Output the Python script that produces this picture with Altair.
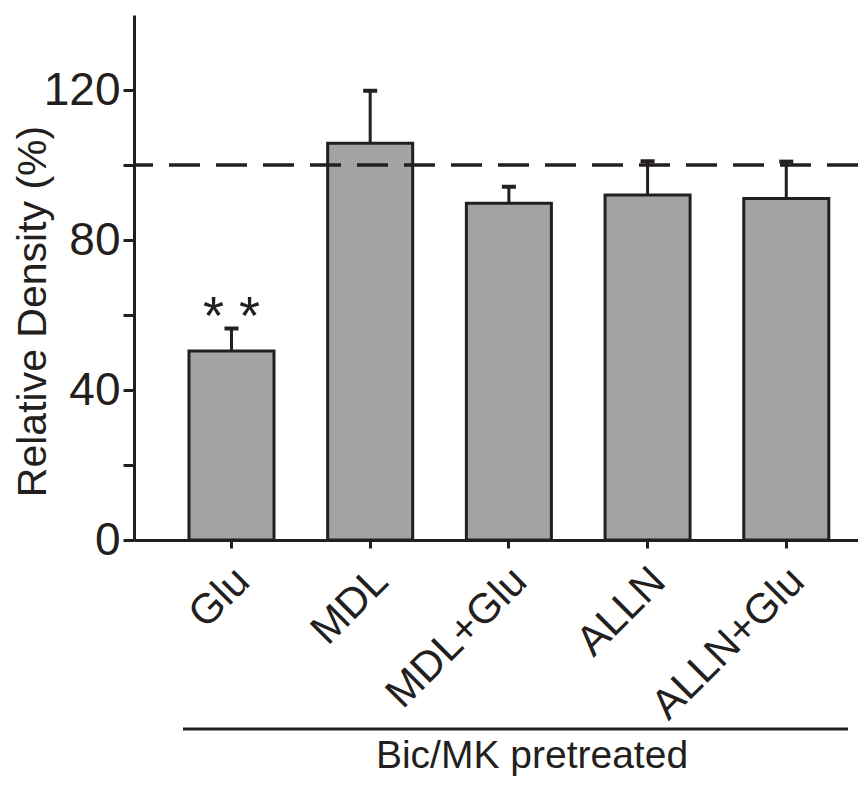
import altair as alt
import pandas as pd

# ---- data ----
categories = ["Glu", "MDL", "MDL+Glu", "ALLN", "ALLN+Glu"]
means = [50.4, 105.8, 89.8, 92.0, 91.1]
errors = [6.0, 14.0, 4.4, 9.0, 9.8]
significance = ["* *", "", "", "", ""]
reference_level = [100]
y_tick_values = [0, 20, 40, 60, 80, 100, 120]
group_label = ["Bic/MK pretreated"]

INK = "#231f20"
FONT = "Liberation Sans"

df = pd.DataFrame({
    "cat": categories,
    "mean": means,
    "upper": [m + e for m, e in zip(means, errors)],
    "sig": significance,
})
ref_df = pd.DataFrame({"ref": reference_level})
grp_df = pd.DataFrame({"label": group_label})

x_enc = alt.X(
    "cat:N",
    sort=categories,
    scale=alt.Scale(paddingInner=0.387, paddingOuter=0.3035, align=0.653, round=False),
    axis=alt.Axis(
        title=None,
        labelAngle=-45,
        labelAlign="right",
        labelBaseline="middle",
        labelFontSize=42,
        labelFont=FONT,
        labelColor=INK,
        labelOffset=11,
        labelPadding=26,
        labelLimit=0,
        labelOverlap=False,
        tickSize=8,
        tickWidth=3,
        tickColor=INK,
        domainWidth=3,
        domainColor=INK,
    ),
)

y_scale = alt.Scale(domain=[0, 140], nice=False, zero=True)

bars = alt.Chart(df).mark_bar(
    color="#a3a3a3", stroke=INK, strokeWidth=3
).encode(
    x=x_enc,
    y=alt.Y(
        "mean:Q",
        scale=y_scale,
        axis=alt.Axis(
            values=y_tick_values,
            labelExpr="datum.value % 40 == 0 ? datum.label : ''",
            title="Relative Density (%)",
            titleFontSize=41,
            titleFont=FONT,
            titleFontWeight="normal",
            titleColor=INK,
            titleAngle=270,
            titleX=-89,
            titleY=296,
            titleAlign="center",
            titleBaseline="alphabetic",
            labelFontSize=46,
            labelFont=FONT,
            labelColor=INK,
            labelPadding=3,
            tickSize=11,
            tickWidth=3,
            tickColor=INK,
            domainWidth=3,
            domainColor=INK,
            grid=False,
        ),
    ),
)

err_line = alt.Chart(df).mark_rule(color=INK, strokeWidth=3, opacity=1).encode(
    x=alt.X("cat:N", sort=categories),
    y=alt.Y("mean:Q", scale=y_scale),
    y2="upper:Q",
)

err_cap = alt.Chart(df).mark_tick(color=INK, size=14, thickness=4, opacity=1).encode(
    x=alt.X("cat:N", sort=categories),
    y=alt.Y("upper:Q", scale=y_scale),
)

stars = alt.Chart(df).mark_text(
    font=FONT, fontSize=54, color=INK, baseline="alphabetic", align="center", dy=5
).encode(
    x=alt.X("cat:N", sort=categories),
    y=alt.Y("upper:Q", scale=y_scale),
    text="sig:N",
)

ref_line = alt.Chart(ref_df).mark_rule(
    color=INK, strokeWidth=3.5, strokeDash=[31, 16], opacity=1
).encode(y=alt.Y("ref:Q", scale=y_scale))

group_rule = alt.Chart(grp_df).mark_rule(color=INK, strokeWidth=3, opacity=1).encode(
    x=alt.value(49), x2=alt.value(714), y=alt.value(714)
)

group_text = alt.Chart(grp_df).mark_text(
    font=FONT, fontSize=39, color=INK, align="center", baseline="alphabetic"
).encode(
    x=alt.value(398), y=alt.value(753), text="label:N"
)

chart = alt.layer(
    bars, ref_line, err_line, err_cap, stars, group_rule, group_text
).properties(
    width=724,
    height=525,
    autosize=alt.AutoSizeParams(type="none"),
    padding={"left": 126, "top": 7, "right": 0, "bottom": 238},
    background="white",
).configure_view(stroke=None)

chart.save("out.html", embed_options={"renderer": "svg", "actions": False})
